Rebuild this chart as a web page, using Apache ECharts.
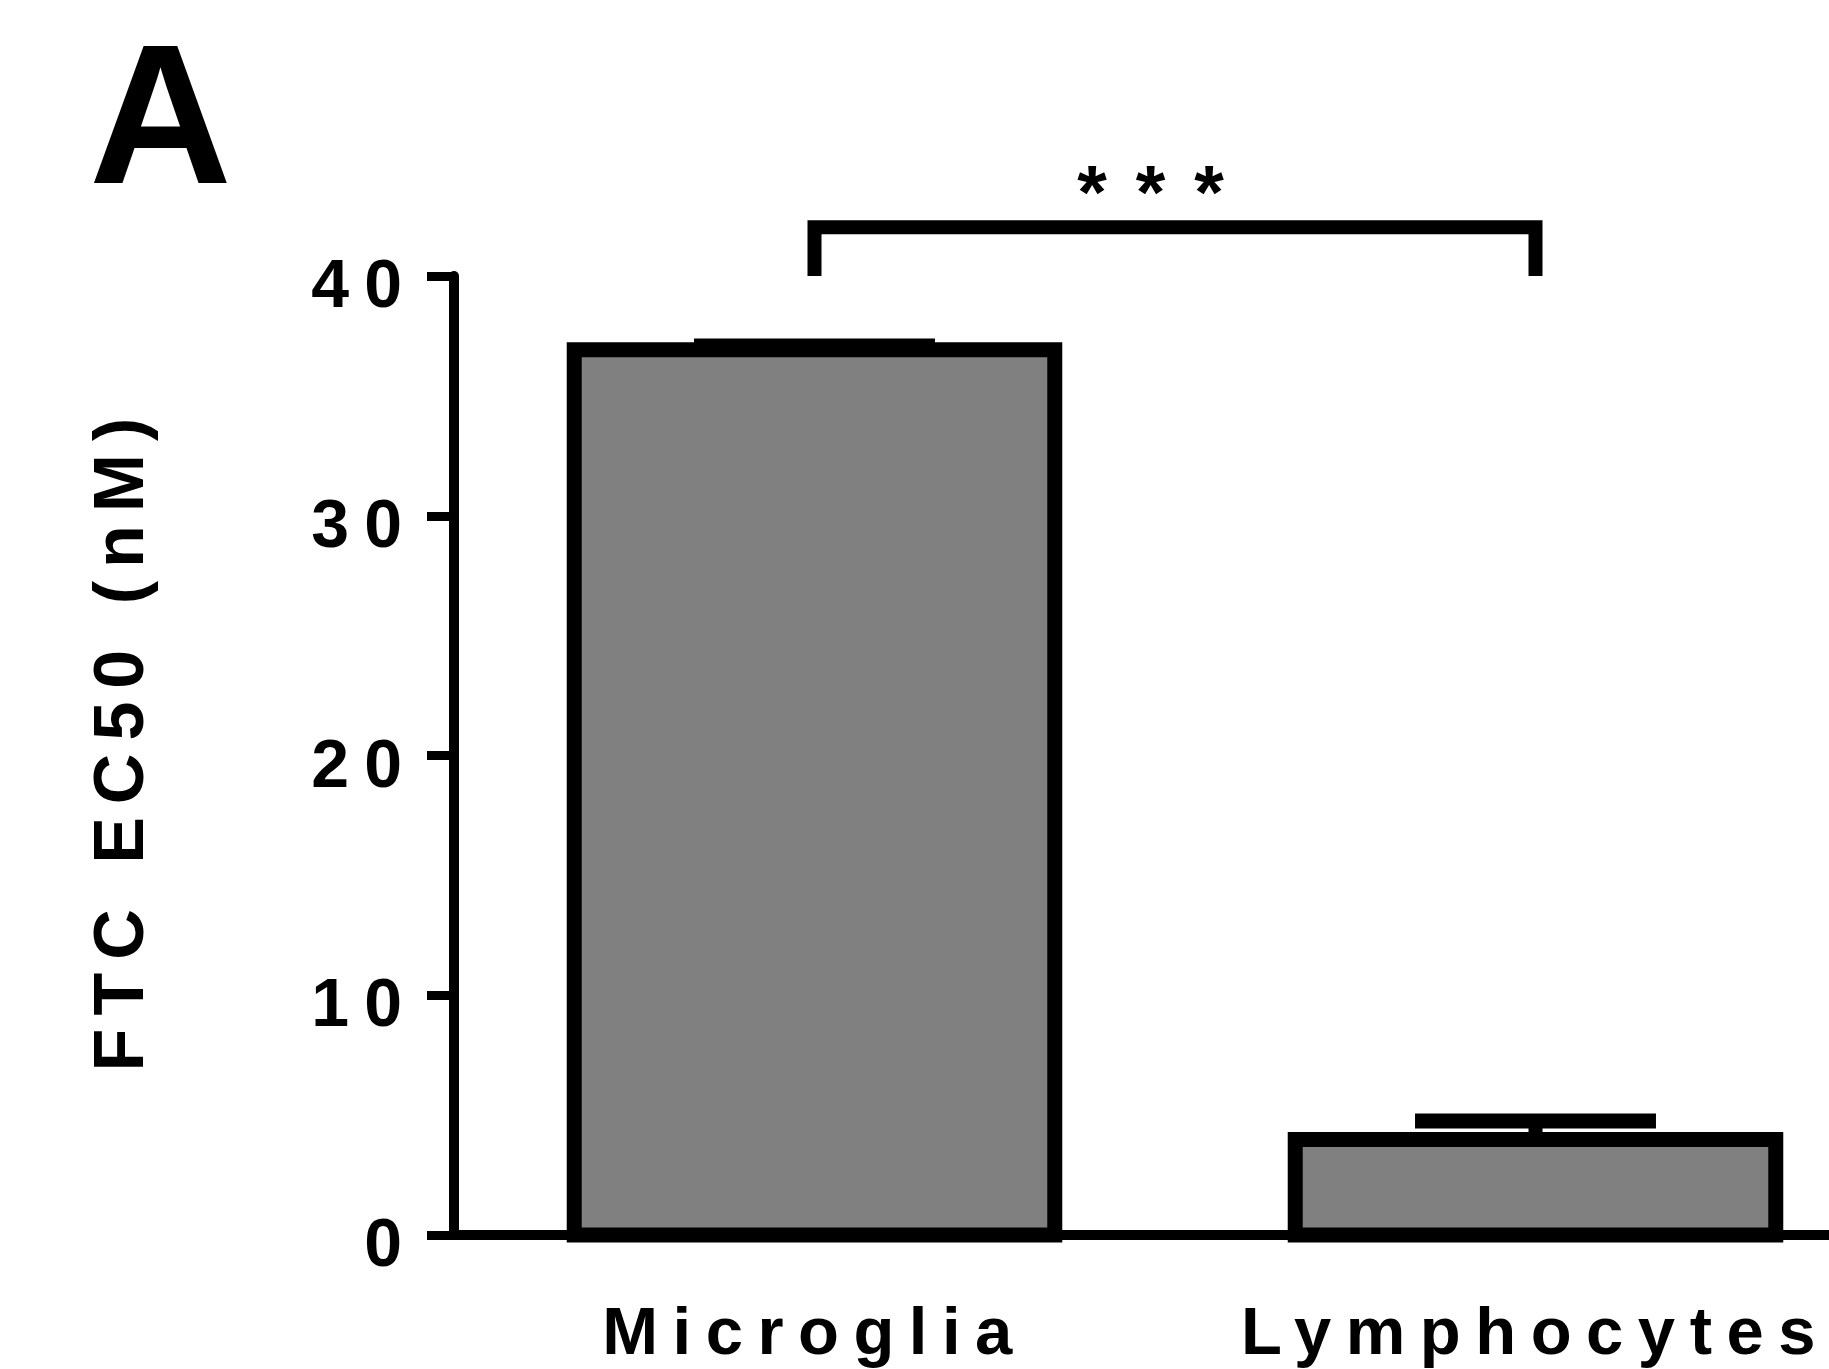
<!DOCTYPE html>
<html>
<head>
<meta charset="utf-8">
<script src="https://cdn.jsdelivr.net/npm/echarts@6/dist/echarts.min.js"></script>
<style>
html, body { margin: 0; padding: 0; background: #ffffff; overflow: hidden; }
#chart { width: 1829px; height: 1369px; }
/* letter spacing of the original figure, keyed on each text's font size */
text[style*="67px"] { letter-spacing: 14.5px; }
text[style*="68px"] { letter-spacing: 15px; }
text[style*="70px"] { letter-spacing: 13px; }
text[style*="76px"] { letter-spacing: 29px; }
</style>
</head>
<body>
<div id="chart"></div>
<script>
// ---------------- data ----------------
const categories = ['Microglia', 'Lymphocytes'];
const meanValues = [36.92, 3.98];      // FTC EC50 (nM)
const errorUpper = [37.08, 4.76];      // mean + SEM
const yTicks = [0, 10, 20, 30, 40];
const sigPair = [0, 1];                // compared categories
const sigLevels = [40.0, 42.03];       // bracket leg bottom, bracket top
const sigLabel = '***';
const panelLabel = 'A';
const yAxisTitle = 'FTC EC50 (nM)';

// ---------------- chart ----------------
const FONT = "'Liberation Sans', Arial, Helvetica, sans-serif";

const chart = echarts.init(document.getElementById('chart'), null, { renderer: 'svg' });

chart.setOption({
  animation: false,
  backgroundColor: '#ffffff',
  grid: { left: 454, top: 276, width: 1442, height: 959, containLabel: false, outerBoundsMode: 'none' },
  xAxis: {
    type: 'category',
    data: categories,
    axisLine: { lineStyle: { color: '#000', width: 10 } },
    axisTick: { alignWithLabel: true, length: 27, lineStyle: { color: '#000', width: 10 } },
    axisLabel: {
      interval: 0, margin: 62, color: '#000',
      fontFamily: FONT, fontWeight: 'bold', fontSize: 67
    },
    splitLine: { show: false }
  },
  yAxis: {
    type: 'value',
    min: yTicks[0], max: yTicks[yTicks.length - 1], interval: yTicks[1] - yTicks[0],
    axisLine: { show: true, lineStyle: { color: '#000', width: 10 } },
    axisTick: { show: true, length: 27, lineStyle: { color: '#000', width: 9 } },
    axisLabel: {
      margin: 37, color: '#000',
      fontFamily: FONT, fontWeight: 'bold', fontSize: 68,
      verticalAlign: 'top', lineHeight: 14
    },
    splitLine: { show: false },
    name: yAxisTitle,
    nameLocation: 'middle',
    nameRotate: 90,
    nameGap: 300,
    nameTextStyle: {
      color: '#000', fontFamily: FONT, fontWeight: 'bold', fontSize: 70,
      padding: [0, 0, 0, 35]
    }
  },
  graphic: [{
    type: 'text', x: 89, y: 114,
    style: { text: panelLabel, font: "bold 198px " + FONT, fill: '#000', textAlign: 'left', textVerticalAlign: 'middle' }
  }],
  series: [
    {
      type: 'custom', name: 'FTC EC50', z: 3,
      data: categories.map((c, i) => [i, meanValues[i]]),
      encode: { x: 0, y: 1 },
      renderItem: function (params, api) {
        const i = api.value(0), v = api.value(1);
        const p = api.coord([i, v]);
        const b = api.coord([i, 0]);
        const w = api.size([1, 0])[0] * 0.6665;
        return {
          type: 'rect',
          shape: { x: p[0] - w / 2, y: p[1], width: w, height: b[1] - p[1] },
          style: { fill: '#808080', stroke: '#000', lineWidth: 15 }
        };
      }
    },
    {
      type: 'custom', name: 'SEM', z: 4,
      data: categories.map((c, i) => [i, meanValues[i], errorUpper[i]]),
      encode: { x: 0, y: [1, 2] },
      renderItem: function (params, api) {
        const i = api.value(0);
        const m = api.coord([i, api.value(1)]);
        const u = api.coord([i, api.value(2)]);
        const hw = api.size([1, 0])[0] * 0.1671;
        return {
          type: 'group',
          children: [
            { type: 'line', shape: { x1: m[0], y1: m[1], x2: u[0], y2: u[1] }, style: { stroke: '#000', lineWidth: 14 } },
            { type: 'line', shape: { x1: u[0] - hw, y1: u[1], x2: u[0] + hw, y2: u[1] }, style: { stroke: '#000', lineWidth: 15 } }
          ]
        };
      }
    },
    {
      type: 'custom', name: 'significance', z: 4,
      data: [[sigPair[0], sigPair[1], sigLevels[0], sigLevels[1]]],
      encode: { x: [0, 1], y: [2, 3] },
      renderItem: function (params, api) {
        const a = api.coord([api.value(0), api.value(2)]);
        const b = api.coord([api.value(0), api.value(3)]);
        const c = api.coord([api.value(1), api.value(3)]);
        const d = api.coord([api.value(1), api.value(2)]);
        return {
          type: 'group',
          children: [
            { type: 'polyline', shape: { points: [a, b, c, d] },
              style: { stroke: '#000', lineWidth: 14, fill: null, lineJoin: 'miter', lineCap: 'butt' } },
            { type: 'text', x: (b[0] + c[0]) / 2 - 10, y: b[1] - 36,
              style: { text: sigLabel, font: "bold 76px " + FONT, fill: '#000', textAlign: 'center', textVerticalAlign: 'middle' } }
          ]
        };
      }
    }
  ]
});
</script>
</body>
</html>
